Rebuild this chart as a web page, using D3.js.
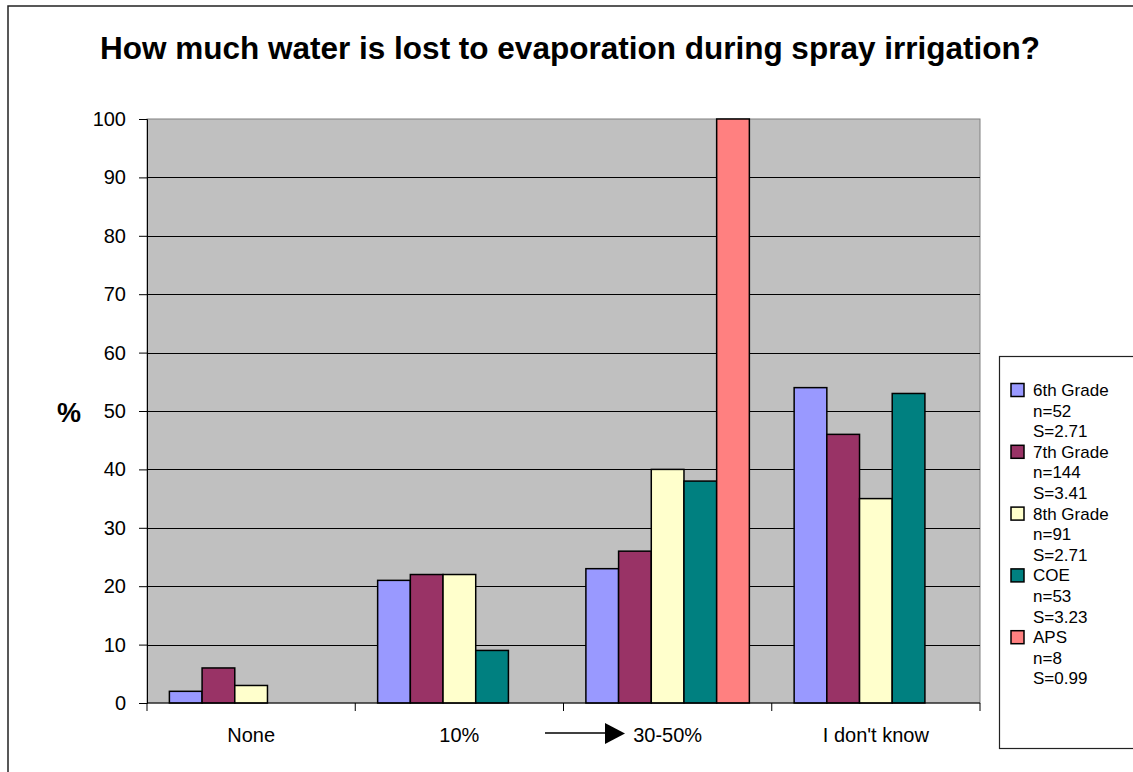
<!DOCTYPE html>
<html>
<head>
<meta charset="utf-8">
<script src="https://cdn.jsdelivr.net/npm/d3@7"></script>
<style>
  html, body { margin: 0; padding: 0; background: #fff; }
  svg { display: block; font-family: "Liberation Sans", Arial, sans-serif; }
</style>
</head>
<body>
<div id="chart"></div>
<script>
// answer categories along the x axis
const categories = ["None", "10%", "30-50%", "I don't know"];

// one list per group, % of answers in each category (null = no bar)
const series = ["6th Grade", "7th Grade", "8th Grade", "COE", "APS"];
const seriesN = ["n=52", "n=144", "n=91", "n=53", "n=8"];
const seriesS = ["S=2.71", "S=3.41", "S=2.71", "S=3.23", "S=0.99"];
const sixth   = [2, 21, 23, 54];
const seventh = [6, 22, 26, 46];
const eighth  = [3, 22, 40, 35];
const coe     = [null, 9, 38, 53];
const aps     = [null, null, 100, null];
const yTicks  = [0, 10, 20, 30, 40, 50, 60, 70, 80, 90, 100];

const colors = ["#9999FF", "#993366", "#FFFFCC", "#008080", "#FF8080"];
const values = [sixth, seventh, eighth, coe, aps];

(function () {
    const W = 1133, H = 772;
    const plot = { left: 147, right: 980, top: 119, bottom: 703 };

    const svg = d3.select("#chart").append("svg")
        .attr("width", W)
        .attr("height", H);

    // outer chart frame (only top and left show in the picture)
    svg.append("path")
        .attr("d", `M8,${H} L8,6 L${W},6`)
        .attr("fill", "none")
        .attr("stroke", "#222")
        .attr("stroke-width", 1.5);

    // title
    svg.append("text")
        .attr("x", 570)
        .attr("y", 59)
        .attr("text-anchor", "middle")
        .attr("font-weight", "bold")
        .attr("font-size", 31.5)
        .text("How much water is lost to evaporation during spray irrigation?");

    const x0 = d3.scaleBand()
        .domain(categories)
        .range([plot.left, plot.right])
        .padding(0);

    const x1 = d3.scaleBand()
        .domain(series)
        .range([0, x0.bandwidth()])
        .paddingInner(0)
        .paddingOuter(0.685);

    const y = d3.scaleLinear()
        .domain([0, 100])
        .range([plot.bottom, plot.top]);

    // plot background
    svg.append("rect")
        .attr("x", plot.left)
        .attr("y", plot.top)
        .attr("width", plot.right - plot.left)
        .attr("height", plot.bottom - plot.top)
        .attr("fill", "#C0C0C0")
        .attr("stroke", "#808080")
        .attr("stroke-width", 1);

    // gridlines
    svg.append("g")
        .selectAll("line")
        .data(yTicks.filter(d => d > 0 && d < 100))
        .join("line")
        .attr("x1", plot.left)
        .attr("x2", plot.right)
        .attr("y1", d => Math.round(y(d)) + 0.5)
        .attr("y2", d => Math.round(y(d)) + 0.5)
        .attr("stroke", "#000")
        .attr("stroke-width", 1);

    // bars
    const groups = svg.append("g")
        .selectAll("g")
        .data(series)
        .join("g")
        .attr("fill", (d, i) => colors[i]);

    groups.selectAll("rect")
        .data((s, i) => values[i].map((v, j) => ({ s, v, c: categories[j] })).filter(d => d.v != null))
        .join("rect")
        .attr("x", d => x0(d.c) + x1(d.s))
        .attr("y", d => y(d.v))
        .attr("width", x1.bandwidth())
        .attr("height", d => y(0) - y(d.v))
        .attr("stroke", "#000")
        .attr("stroke-width", 1.5);

    // y axis
    const yAxis = svg.append("g")
        .attr("transform", `translate(${plot.left},0)`)
        .call(d3.axisLeft(y).tickValues(yTicks).tickSize(8).tickPadding(13));
    yAxis.select(".domain").attr("stroke", "#000");
    yAxis.selectAll("text")
        .attr("font-size", 20)
        .attr("font-family", "Liberation Sans, Arial, sans-serif")
        .attr("fill", "#000");

    // x axis: ticks sit on the band boundaries
    const xAxis = svg.append("g")
        .attr("transform", `translate(0,${plot.bottom})`);
    xAxis.append("line")
        .attr("x1", plot.left)
        .attr("x2", plot.right)
        .attr("stroke", "#000");
    xAxis.selectAll("line.tick")
        .data(categories.concat(["end"]))
        .join("line")
        .attr("class", "tick")
        .attr("x1", (d, i) => i < categories.length ? x0(d) : plot.right)
        .attr("x2", (d, i) => i < categories.length ? x0(d) : plot.right)
        .attr("y1", 0)
        .attr("y2", 8)
        .attr("stroke", "#000");
    xAxis.selectAll("text")
        .data(categories)
        .join("text")
        .attr("x", d => x0(d) + x0.bandwidth() / 2)
        .attr("y", 39)
        .attr("text-anchor", "middle")
        .attr("font-size", 20)
        .text(d => d);

    // arrow pointing at the right answer
    svg.append("line")
        .attr("x1", 545).attr("x2", 606)
        .attr("y1", 733).attr("y2", 733)
        .attr("stroke", "#000")
        .attr("stroke-width", 1.5);
    svg.append("path")
        .attr("d", "M605,723 L625,733.5 L605,744 Z")
        .attr("fill", "#000");

    // y axis title
    svg.append("text")
        .attr("x", 69)
        .attr("y", 422)
        .attr("text-anchor", "middle")
        .attr("font-weight", "bold")
        .attr("font-size", 27)
        .text("%");

    // legend
    const legend = svg.append("g");
    legend.append("rect")
        .attr("x", 999.5)
        .attr("y", 356.5)
        .attr("width", 200)
        .attr("height", 392)
        .attr("fill", "#fff")
        .attr("stroke", "#222")
        .attr("stroke-width", 1.2);

    // three lines per entry, evenly stepped so they don't collide
    const lineStep = 20.6;
    const item = legend.selectAll("g.item")
        .data(series)
        .join("g")
        .attr("class", "item")
        .attr("transform", (d, i) => `translate(0,${390 + i * 3 * lineStep})`);

    item.append("rect")
        .attr("x", 1011)
        .attr("y", -6.5)
        .attr("width", 13)
        .attr("height", 13)
        .attr("fill", (d, i) => colors[i])
        .attr("stroke", "#000")
        .attr("stroke-width", 1.5);

    item.selectAll("text")
        .data((d, i) => [d, seriesN[i], seriesS[i]])
        .join("text")
        .attr("x", 1033)
        .attr("y", (d, k) => k * lineStep)
        .attr("dy", "0.35em")
        .attr("font-size", 17)
        .text(d => d);
})();
</script>
</body>
</html>
